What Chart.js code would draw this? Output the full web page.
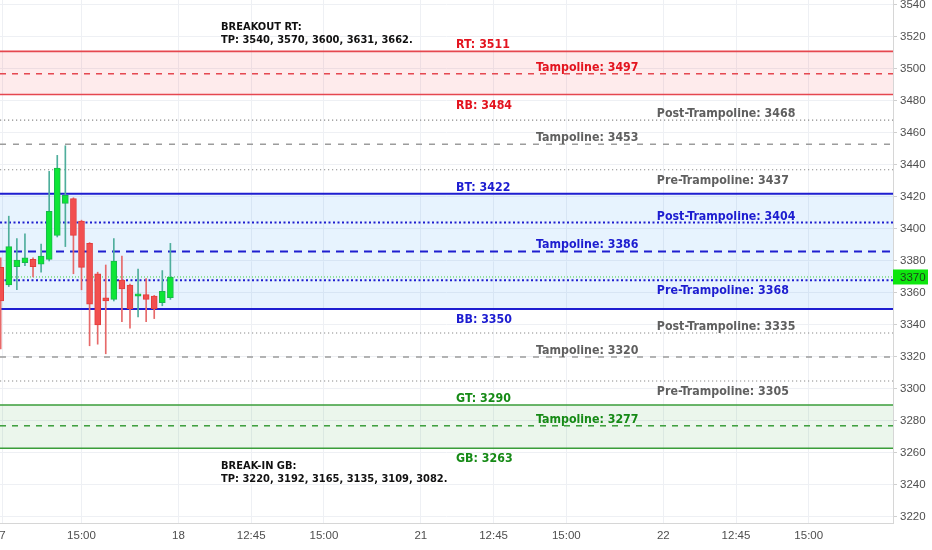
<!DOCTYPE html>
<html><head><meta charset="utf-8">
<script src="https://cdn.jsdelivr.net/npm/chart.js@4.4.0/dist/chart.umd.min.js"></script>
<style>html,body{margin:0;padding:0;background:#fff;overflow:hidden}#wrap{width:932px;height:550px}</style>
</head><body><div id="wrap"><canvas id="c" width="932" height="550"></canvas></div>
<script>
// ---- data ----
const barIndex = [0,1,2,3,4,5,6,7,8,9,10,11,12,13,14,15,16,17,18,19,20,21];
const opens  = [3376,3365,3376.5,3379,3381,3378,3381,3396,3416,3419,3405,3391,3372,3357,3356,3368,3365,3358,3359,3358,3354,3357];
const highs  = [3382,3408,3394,3397,3382,3390.5,3436,3446,3452,3419.5,3405.5,3391.5,3373,3377.5,3394,3383,3365.5,3375,3369,3358.5,3374,3391];
const lows   = [3325,3364,3362,3377,3370,3373,3380,3395,3389,3372,3362,3327,3328,3322,3355,3342,3338,3345,3342,3344,3352,3356];
const closes = [3355,3389,3380.5,3382,3376.5,3383,3411,3438,3421,3396,3376,3353,3340,3355,3380,3362.5,3350,3359.5,3356,3350,3361,3370];
const lastPrice = 3370;

const xTickPositions = [0.22,10,22,31,40,52,61,70,82,91,100];
const xTickLabels = ['7','15:00','18','12:45','15:00','21','12:45','15:00','22','12:45','15:00'];
const yStep = 20;

const levelNames  = ['RT','RB','BT','BB','GT','GB'];
const levelValues = [3511,3484,3422,3350,3290,3263];
const tampolineValues = [3497,3453,3386,3320,3277];
const postValues = [3468,3404,3335];
const preValues  = [3437,3368,3305];

const breakoutTitle = 'BREAKOUT RT:';
const breakoutTargets = [3540,3570,3600,3631,3662];
const breakinTitle = 'BREAK-IN GB:';
const breakinTargets = [3220,3192,3165,3135,3109,3082];

// ---- styles ----
const X_MIN = -0.087, X_MAX = 110.43, Y_MIN = 3216.25, Y_MAX = 3543.1;
const RED = {line:'#e5474f', text:'#e3141f', fill:'rgba(242,54,69,0.10)'};
const BLUE = {line:'#1e1ed0', text:'#1c1cd0', fill:'rgba(33,150,243,0.11)'};
const GREEN = {line:'#3a9e3a', text:'#168a16', fill:'rgba(76,175,80,0.11)'};
const GRAY = {dash:'#9c9c9c', dot:'#8a8a8a', text:'#5f5f5f'};
const LABEL_FONT = 'bold 12.3px "DejaVu Sans Condensed", "DejaVu Sans", sans-serif';
const NOTE_FONT = 'bold 11px "DejaVu Sans Condensed", "DejaVu Sans", sans-serif';
const AXIS_FONT = {family:'"Liberation Sans Narrow", "Liberation Sans", sans-serif', size:11.5};

function zoneOf(v){
  if (v > 3480) return 'red';
  if (v > 3430) return 'grayTop';
  if (v >= 3350) return 'blue';
  if (v > 3295) return 'grayBot';
  return 'green';
}
function colorSet(v){
  const z = zoneOf(v);
  if (z==='red') return RED; if (z==='blue') return BLUE; if (z==='green') return GREEN; return null;
}

// ---- datasets ----
const up = barIndex.map(i => closes[i] >= opens[i]);
const datasets = [];
datasets.push({
  type:'bar', label:'wick', order:2,
  data: barIndex.map(i => ({x:i, y:[lows[i], highs[i]]})),
  backgroundColor: up.map(u => u ? '#4fae9c' : '#e76a6a'),
  barThickness:1, borderWidth:0, grouped:false
});
datasets.push({
  type:'bar', label:'body', order:1,
  data: barIndex.map(i => ({x:i, y:[opens[i], closes[i]]})),
  backgroundColor: up.map(u => u ? '#0ee636' : '#f24f4f'),
  borderColor: up.map(u => u ? '#18b84a' : '#e23c3c'),
  borderWidth:1, borderSkipped:false, barThickness:6, minBarLength:2, grouped:false
});
function hline(v, color, width, dash, order){
  return {type:'line', order, data:[{x:X_MIN,y:v},{x:X_MAX,y:v}], borderColor:color, borderWidth:width,
    borderDash:dash, pointRadius:0, fill:false, tension:0};
}
// bands: top solid line fills to bottom solid line
const bandPairs = [[0,1],[2,3],[4,5]];
bandPairs.forEach(([a,b]) => {
  const cs = colorSet(levelValues[a]);
  const w = cs===BLUE ? 2 : 1.6;
  const topIdx = datasets.length;
  datasets.push(hline(levelValues[a], cs.line, w, [], 10));
  const bottom = hline(levelValues[b], cs.line, w, [], 5);
  datasets[topIdx].fill = {target: topIdx+1};
  datasets[topIdx].backgroundColor = cs.fill;
  datasets.push(bottom);
});
tampolineValues.forEach(v => {
  const cs = colorSet(v);
  if (cs===BLUE) datasets.push(hline(v, BLUE.line, 2, [8,6], 5));
  else if (cs) datasets.push(hline(v, cs.line, 1.5, [6,6], 5));
  else datasets.push(hline(v, GRAY.dash, 1.5, [6,7], 5));
});
postValues.concat(preValues).forEach(v => {
  const cs = colorSet(v);
  if (cs===BLUE) datasets.push(hline(v, BLUE.line, 2, [2,2.5], 5));
  else datasets.push(hline(v, GRAY.dot, 1.2, [1.2,2.8], 5));
});
datasets.push(hline(lastPrice, '#3ecf3e', 1, [1,2], 4));

// ---- text labels ----
const LABEL_X = {level:56.35, tamp:66.25, side:81.2, note:27.27};
const textItems = [];
levelNames.forEach((n,i) => {
  textItems.push({text:n+': '+levelValues[i], v:levelValues[i], col:'level', above: i%2===0, color: colorSet(levelValues[i]).text});
});
tampolineValues.forEach(v => {
  const cs = colorSet(v);
  textItems.push({text:'Tampoline: '+v, v, col:'tamp', above:true, color: cs ? cs.text : GRAY.text});
});
postValues.forEach(v => {
  const cs = colorSet(v);
  textItems.push({text:'Post-Trampoline: '+v, v, col:'side', above:true, color: cs ? cs.text : GRAY.text});
});
preValues.forEach(v => {
  const cs = colorSet(v);
  textItems.push({text:'Pre-Trampoline: '+v, v, col:'side', above:false, color: cs ? cs.text : GRAY.text});
});

const labelsPlugin = {
  id:'levelLabels',
  afterDatasetsDraw(chart){
    const {ctx, scales:{x,y}} = chart;
    ctx.save();
    ctx.font = LABEL_FONT;
    ctx.textAlign = 'left';
    ctx.textBaseline = 'alphabetic';
    textItems.forEach(t => {
      const py = y.getPixelForValue(t.v);
      const px = x.getPixelForValue(LABEL_X[t.col]);
      ctx.fillStyle = t.color;
      ctx.fillText(t.text, px, t.above ? py - 3 : py + 14);
    });
    ctx.font = NOTE_FONT;
    ctx.fillStyle = '#111';
    const nx = x.getPixelForValue(LABEL_X.note);
    const rt = y.getPixelForValue(levelValues[0]);
    ctx.fillText(breakoutTitle, nx, rt - 21);
    ctx.fillText('TP: ' + breakoutTargets.join(', ') + '.', nx, rt - 8.5);
    const gb = y.getPixelForValue(levelValues[5]);
    ctx.fillText(breakinTitle, nx, gb + 21);
    ctx.fillText('TP: ' + breakinTargets.join(', ') + '.', nx, gb + 33.5);
    ctx.restore();
  },
  afterDraw(chart){
    const {ctx, chartArea, scales:{y}} = chart;
    const py = y.getPixelForValue(lastPrice);
    ctx.save();
    ctx.fillStyle = '#0ee60e';
    ctx.fillRect(chartArea.right, py - 7.5, 35, 15);
    ctx.fillStyle = '#1d3d1d';
    ctx.font = AXIS_FONT.size + 'px ' + AXIS_FONT.family;
    ctx.textBaseline = 'middle';
    ctx.textAlign = 'left';
    ctx.fillText(String(lastPrice), chartArea.right + 7, py + 0.5);
    ctx.restore();
  }
};

new Chart(document.getElementById('c'), {
  type:'bar',
  data:{datasets},
  options:{
    responsive:false, animation:false, devicePixelRatio:1,
    layout:{padding:0, autoPadding:false},
    plugins:{legend:{display:false}, tooltip:{enabled:false}},
    scales:{
      x:{
        type:'linear', min:X_MIN, max:X_MAX, offset:false,
        afterBuildTicks: s => { s.ticks = xTickPositions.map(v => ({value:v})); },
        ticks:{autoSkip:false, maxRotation:0, padding:6, color:'#4e4e4e', font:AXIS_FONT,
          callback:(v,i) => xTickLabels[i]},
        grid:{color:'#eef0f4', drawTicks:false, offset:false},
        border:{display:true, color:'#d6d6d6'},
        afterFit: s => { s.height = 27; s.paddingLeft = 0; s.paddingRight = 0; }
      },
      y:{
        type:'linear', position:'right', min:Y_MIN, max:Y_MAX, beginAtZero:false,
        ticks:{stepSize:yStep, includeBounds:false, padding:3, color:'#4e4e4e', font:AXIS_FONT,
          callback: v => String(v)},
        grid:{color:'#eef0f4', tickColor:'#cfcfcf', tickLength:4, drawTicks:true},
        border:{display:true, color:'#d6d6d6'},
        afterFit: s => { s.width = 39; s.paddingTop = 0; s.paddingBottom = 0; }
      }
    }
  },
  plugins:[labelsPlugin]
});
</script></body></html>
